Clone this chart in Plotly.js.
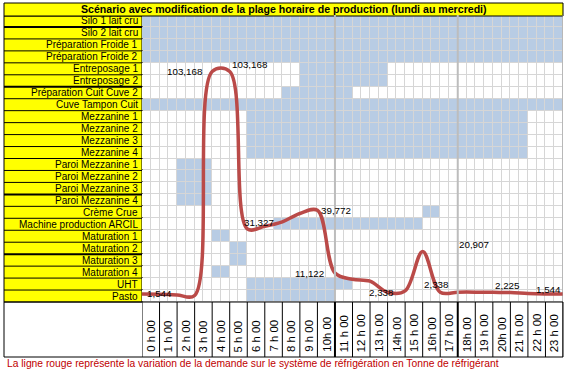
<!DOCTYPE html>
<html><head><meta charset="utf-8">
<script src="https://cdn.plot.ly/plotly-3.0.1.min.js"></script>
<style>html,body{margin:0;padding:0;background:#fff;} #chart{width:567px;height:370px;}</style>
</head><body><div id="chart"></div>
<script>
// ---------- data ----------
const chartTitle = "Scénario avec modification de la plage horaire de production (lundi au mercredi)";
const footNote = "La ligne rouge représente la variation de la demande sur le système de réfrigération en Tonne de réfrigérant";
const rowLabels = ["Silo 1 lait cru","Silo 2 lait cru","Préparation Froide 1","Préparation Froide 2",
  "Entreposage 1","Entreposage 2","Préparation Cuit Cuve 2","Cuve Tampon Cuit",
  "Mezzanine 1","Mezzanine 2","Mezzanine 3","Mezzanine 4",
  "Paroi Mezzanine 1","Paroi Mezzanine 2","Paroi Mezzanine 3","Paroi Mezzanine 4",
  "Crème Crue","Machine production ARCIL","Maturation 1","Maturation 2","Maturation 3","Maturation 4","UHT","Pasto"];
const runStart = [0,0,0,0, 9,9,8,0, 6,6,6,6, 2,2,2,2, 16,7.5,4,5,5,4,6,6];
const runEnd   = [24,24,24,24, 14,14,12,24, 22,22,22,22, 4,4,4,4, 17,16,5,6,6,5,12,11];
const hourLabels = ["0 h 00","1 h 00","2 h 00","3 h 00","4 h 00","5 h 00","6 h 00","7 h 00","8 h 00","9 h 00",
  "10h 00","11 h 00","12 h 00","13 h 00","14h 00","15 h 00","16h 00","17 h 00","18h 00","19 h 00",
  "20h 00","21 h 00","22 h 00","23 h 00"];
const demandHours = [0,1,2,3,4,5,6,7,8,9,10,11,12,13,14,15,16,17,18,19,20,21,22,23,24];
const demandTR = [1544,1400,1150,900,103168,103168,31327,32500,34500,38300,39772,11122,8300,7400,
  2338,3000,20907,2338,2400,2400,2300,2225,1800,1600,1544];
const labelledHours = [0,4,5,6,10,11,14,16,17,21,24];

// ---------- label placement (styling) ----------
const labelStyle = {
  0:{xa:'left',dx:3,dy:1}, 4:{xa:'right',dx:-7,dy:0}, 5:{xa:'left',dx:0,dy:7},
  6:{xa:'left',dx:-5,dy:6}, 10:{xa:'left',dx:2,dy:0}, 11:{xa:'right',dx:-9,dy:0},
  14:{xa:'center',dx:-6,dy:0}, 16:{xa:'left',dx:34,dy:7}, 17:{xa:'center',dx:-4,dy:8},
  21:{xa:'center',dx:-3,dy:7}, 24:{xa:'right',dx:0,dy:5}
};

const W = 567, H = 370;
const gx0 = 142, gx1 = 563, gy0 = 15, gy1 = 302, by1 = 357;
const px = v => v / W;
const py = v => 1 - v / H;
const FONT = "Liberation Sans, Arial, sans-serif";

// heatmap grid
const nCols = 48;
const xCenters = Array.from({length:nCols}, (_, c) => c * 0.5 + 0.25);
const yCenters = rowLabels.map((_, r) => r + 0.5);
const z = rowLabels.map((_, r) => xCenters.map(x => (x >= runStart[r] && x < runEnd[r]) ? 1 : 0));

const traces = [
  {type:'heatmap', x:xCenters, y:yCenters, z:z, xgap:1, ygap:1, zmin:0, zmax:1,
   colorscale:[[0,'#FFFFFF'],[1,'#B8CCE4']], showscale:false, hoverinfo:'skip'},
  {type:'scatter', mode:'lines', x:demandHours, y:demandTR, yaxis:'y2',
   line:{color:'#BA4A48', width:3.5, shape:'spline', smoothing:1}, hoverinfo:'skip'}
];

const shapes = [];
// title bar
shapes.push({type:'rect', xref:'paper', yref:'paper', x0:px(4), x1:px(gx1), y0:py(gy0+1), y1:py(3),
  fillcolor:'#FFFF00', line:{color:'#000', width:1}});
// label column
shapes.push({type:'rect', xref:'paper', yref:'paper', x0:px(4), x1:px(gx0), y0:py(gy1), y1:py(gy0+1),
  fillcolor:'#FFFF00', line:{color:'#000', width:1}, layer:'below'});
const thickRows = [1,6,15,20];
for (let r = 1; r < rowLabels.length; r++) {
  shapes.push({type:'line', xref:'paper', yref:'y', x0:px(4), x1:px(gx0), y0:r, y1:r,
    line:{color:'#000', width: thickRows.includes(r) ? 2 : 1}});
}
// heavier grid separators
[11,18].forEach(h => shapes.push({type:'line', xref:'x', yref:'paper', x0:h, x1:h, y0:py(gy1), y1:py(gy0),
  line:{color:'#BDBDBD', width:2}}));
shapes.push({type:'line', xref:'x', yref:'paper', x0:24, x1:24, y0:py(gy1), y1:py(gy0), line:{color:'#9A9A9A', width:1}});
// bottom hour-label cells
shapes.push({type:'rect', xref:'paper', yref:'paper', x0:px(4), x1:px(gx1), y0:py(by1), y1:py(gy1),
  fillcolor:'rgba(0,0,0,0)', line:{color:'#000', width:1}});
for (let h = 0; h <= 24; h++) {
  shapes.push({type:'line', xref:'x', yref:'paper', x0:h, x1:h, y0:py(by1), y1:py(gy1),
    line:{color:'#000', width:(h===11||h===18) ? 2 : 1}});
}

const annotations = [];
annotations.push({xref:'paper', yref:'paper', x:px((4+gx1)/2), y:py(9.5), text:'<b>'+chartTitle+'</b>',
  showarrow:false, xanchor:'center', yanchor:'middle', font:{family:FONT, size:10.6, color:'#000'}});
rowLabels.forEach((t, r) => annotations.push({xref:'paper', yref:'y', x:px(gx0-2), y:r+0.5, text:t,
  showarrow:false, xanchor:'right', yanchor:'middle', font:{family:FONT, size:10, color:'#000'}}));
hourLabels.forEach((t, h) => annotations.push({xref:'x', yref:'paper', x:h+0.5, y:py(354), text:t,
  textangle:-90, showarrow:false, xanchor:'center', yanchor:'bottom', font:{family:FONT, size:11.4, color:'#000'}}));
labelledHours.forEach(h => {
  const s = labelStyle[h] || {xa:'center',dx:0,dy:0};
  annotations.push({xref:'x', yref:'y2', x:demandHours[h], y:demandTR[h], text:demandTR[h].toLocaleString('en-US'),
    showarrow:false, xanchor:s.xa, yanchor:'middle', xshift:s.dx, yshift:s.dy,
    font:{family:FONT, size:9.8, color:'#000'}});
});
annotations.push({xref:'paper', yref:'paper', x:px(5), y:py(363.5), text:footNote, showarrow:false,
  xanchor:'left', yanchor:'middle', font:{family:FONT, size:10.3, color:'#C00000'}});

const ppv = 0.00219, zeroPx = 297.4;
const layout = {
  width:W, height:H, margin:{l:0,r:0,t:0,b:0}, paper_bgcolor:'#FFFFFF', plot_bgcolor:'#D6D6D6',
  showlegend:false,
  xaxis:{domain:[px(gx0), px(gx1)], range:[0,24], showgrid:false, zeroline:false, showticklabels:false, ticks:'', fixedrange:true},
  yaxis:{domain:[py(gy1), py(gy0)], range:[24,0], showgrid:false, zeroline:false, showticklabels:false, ticks:'', fixedrange:true},
  yaxis2:{overlaying:'y', range:[(zeroPx-gy1)/ppv, (zeroPx-gy0)/ppv], showgrid:false, zeroline:false,
    showticklabels:false, ticks:'', fixedrange:true},
  shapes:shapes, annotations:annotations
};
Plotly.newPlot('chart', traces, layout, {staticPlot:true, displayModeBar:false});
</script></body></html>
